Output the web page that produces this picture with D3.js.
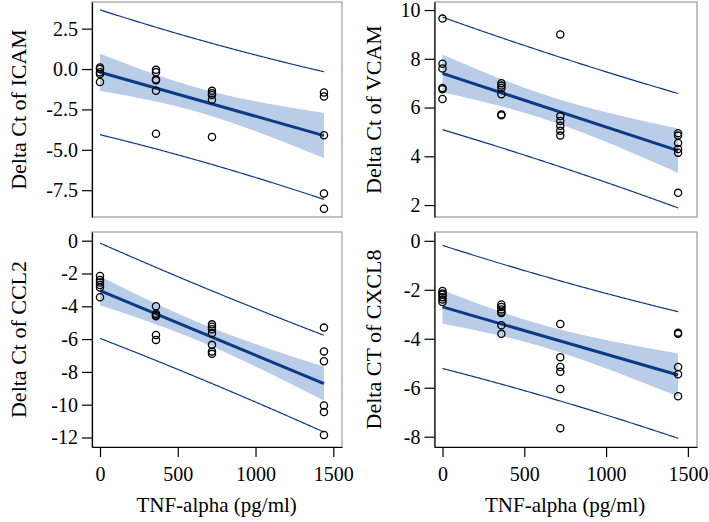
<!DOCTYPE html>
<html>
<head>
<meta charset="utf-8">
<script src="https://cdn.jsdelivr.net/npm/d3@7"></script>
<style>
  html, body { margin: 0; padding: 0; background: #fff; }
  svg { display: block; }
  text { font-family: "Liberation Serif", "Times New Roman", serif; fill: #000; }
</style>
</head>
<body>
<svg id="chart" width="709" height="522"></svg>
<script>
// ---------------- data ----------------
const doses = [0, 360, 720, 1440];           // TNF-alpha (pg/ml)
const panelTitles = ["Delta Ct of ICAM", "Delta Ct of VCAM", "Delta Ct of CCL2", "Delta CT of CXCL8"];
const xAxisTitle = "TNF-alpha (pg/ml)";
const xTicks = [0, 500, 1000, 1500];

const icamValues = [
  [0.1, 0.0, -0.2, -0.3, -0.8],
  [-0.05, -0.2, -0.65, -0.7, -1.35, -4.0],
  [-1.35, -1.5, -1.6, -1.9, -4.2],
  [-1.45, -1.7, -4.1, -7.7, -8.65]
];
const vcamValues = [
  [9.65, 7.8, 7.6, 6.8, 6.75, 6.35],
  [7.0, 6.9, 6.8, 6.55, 5.72, 5.68],
  [9.0, 5.65, 5.45, 5.25, 5.05, 4.85],
  [4.95, 4.85, 4.55, 4.3, 4.15, 2.5]
];
const ccl2Values = [
  [-2.15, -2.4, -2.55, -2.7, -2.85, -3.45],
  [-4.0, -4.45, -4.55, -4.6, -5.75, -6.05],
  [-5.1, -5.25, -5.4, -5.65, -6.35, -6.75, -6.9],
  [-5.3, -6.75, -7.35, -10.05, -10.45, -11.85]
];
const cxcl8Values = [
  [-2.05, -2.15, -2.2, -2.3, -2.4, -2.5],
  [-2.6, -2.7, -2.8, -2.9, -2.95, -3.45, -3.8],
  [-3.4, -4.75, -5.15, -5.35, -6.05, -7.65],
  [-3.75, -3.8, -5.15, -5.45, -6.35]
];

// fitted line read at dose 0 and dose 1440
const fitAtZero = [-0.2, 7.4, -3.05, -2.7];
const fitAtMax  = [-4.12, 4.23, -8.72, -5.48];
// t * residual SE scale for confidence band and prediction interval
const ciScale = [3.42, 2.45, 2.8, 2.2];
const piScale = [3.66, 2.2, 2.77, 2.4];

// y ticks
const yTicksList = [
  [2.5, 0, -2.5, -5, -7.5],
  [10, 8, 6, 4, 2],
  [0, -2, -4, -6, -8, -10, -12],
  [0, -2, -4, -6, -8]
];
const yDomains = [[-9.16, 4.15], [1.51, 10.33], [-12.58, 0.53], [-8.42, 0.36]];
const xDomains = [[-51.4, 1556], [-48.9, 1555.7], [-51.4, 1556], [-48.9, 1555.7]];

// ---------------- layout ----------------
const panelBoxes = [
  {x0: 92, x1: 342, y0: 2, y1: 217, titleX: 26},
  {x0: 434.5, x1: 697, y0: 2, y1: 217, titleX: 381},
  {x0: 92, x1: 342, y0: 232, y1: 447, titleX: 26},
  {x0: 434.5, x1: 697, y0: 232, y1: 447, titleX: 381}
];
const allValues = [icamValues, vcamValues, ccl2Values, cxcl8Values];
const yFormats = [d => d3.format(".1f")(d).replace("−", "-"), d => String(d), d => String(d), d => String(d)];

const svg = d3.select("#chart");
const lineColor = "#0b3b85";
const bandColor = "#b9cde9";

allValues.forEach((groups, i) => {
  const b = panelBoxes[i];
  const x = d3.scaleLinear().domain(xDomains[i]).range([b.x0, b.x1]);
  const y = d3.scaleLinear().domain(yDomains[i]).range([b.y1, b.y0]);
  const g = svg.append("g");

  // points flattened
  const pts = [];
  groups.forEach((vals, k) => vals.forEach(v => pts.push({x: doses[k], y: v})));
  const n = pts.length;
  const xbar = d3.mean(pts, d => d.x);
  const sxx = d3.sum(pts, d => (d.x - xbar) ** 2);
  const xmax = doses[doses.length - 1];
  const slope = (fitAtMax[i] - fitAtZero[i]) / xmax;
  const fit = xv => fitAtZero[i] + slope * xv;
  const se = (xv, extra) => Math.sqrt(extra + 1 / n + (xv - xbar) ** 2 / sxx);

  const grid = d3.range(0, xmax + 1, 10);

  // confidence band
  const area = d3.area()
    .x(d => x(d))
    .y0(d => y(fit(d) - ciScale[i] * se(d, 0)))
    .y1(d => y(fit(d) + ciScale[i] * se(d, 0)));
  g.append("path").datum(grid).attr("d", area).attr("fill", bandColor);

  // prediction interval lines
  const piUp = d3.line().x(d => x(d)).y(d => y(fit(d) + piScale[i] * se(d, 1)));
  const piLo = d3.line().x(d => x(d)).y(d => y(fit(d) - piScale[i] * se(d, 1)));
  g.append("path").datum(grid).attr("d", piUp).attr("fill", "none").attr("stroke", lineColor).attr("stroke-width", 1.2);
  g.append("path").datum(grid).attr("d", piLo).attr("fill", "none").attr("stroke", lineColor).attr("stroke-width", 1.2);

  // fit line
  g.append("path").datum([0, xmax])
    .attr("d", d3.line().x(d => x(d)).y(d => y(fit(d))))
    .attr("fill", "none").attr("stroke", lineColor).attr("stroke-width", 3);

  // points
  g.selectAll("circle.pt").data(pts).join("circle")
    .attr("class", "pt")
    .attr("cx", d => x(d.x)).attr("cy", d => y(d.y)).attr("r", 3.6)
    .attr("fill", "none").attr("stroke", "#000").attr("stroke-width", 1.3);

  // box
  g.append("rect").attr("x", b.x0).attr("y", b.y0)
    .attr("width", b.x1 - b.x0).attr("height", b.y1 - b.y0)
    .attr("fill", "none").attr("stroke", "#9a9a9a").attr("stroke-width", 1.2);

  // y axis
  const yAxis = d3.axisLeft(y).tickValues(yTicksList[i]).tickSize(10).tickSizeOuter(0).tickPadding(4)
    .tickFormat(yFormats[i]);
  const ya = g.append("g").attr("transform", `translate(${b.x0},0)`).call(yAxis);
  ya.select(".domain").attr("stroke", "#000").attr("stroke-width", 1.2);
  ya.selectAll(".tick line").attr("stroke", "#000").attr("stroke-width", 1.2);
  ya.selectAll(".tick text").style("font-family", "Liberation Serif").style("font-size", "20px").attr("fill", "#000");

  // x axis for bottom row
  if (i >= 2) {
    const xAxis = d3.axisBottom(x).tickValues(xTicks).tickSize(10).tickSizeOuter(0).tickPadding(10)
      .tickFormat(d => String(d));
    const xa = g.append("g").attr("transform", `translate(0,${b.y1})`).call(xAxis);
    xa.select(".domain").attr("stroke", "#000").attr("stroke-width", 1.2);
    xa.selectAll(".tick line").attr("stroke", "#000").attr("stroke-width", 1.2);
    xa.selectAll(".tick text").style("font-family", "Liberation Serif").style("font-size", "20px").attr("fill", "#000");
    g.append("text")
      .attr("x", (x(0) + x(1500)) / 2).attr("y", 512)
      .attr("text-anchor", "middle").style("font-size", "21px")
      .text(xAxisTitle);
  }

  // y title
  g.append("text")
    .attr("transform", `translate(${b.titleX},${(b.y0 + b.y1) / 2}) rotate(-90)`)
    .attr("text-anchor", "middle").style("font-size", "22px")
    .text(panelTitles[i]);
});
</script>
</body>
</html>
